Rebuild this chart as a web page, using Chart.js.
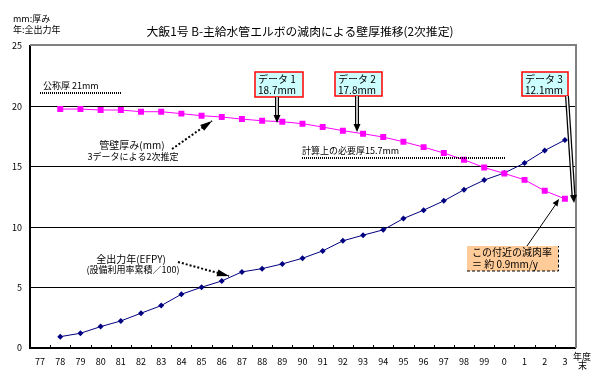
<!DOCTYPE html>
<html>
<head>
<meta charset="utf-8">
<script src="https://cdn.jsdelivr.net/npm/chart.js@4"></script>
<style>
html,body{margin:0;padding:0;background:#fff;}
canvas{display:block;}
</style>
</head>
<body>
<canvas id="chart" width="604" height="376"></canvas>
<script>
// 年度 (77 ... 3)
const years = ['77','78','79','80','81','82','83','84','85','86','87','88','89','90','91','92','93','94','95','96','97','98','99','0','1','2','3'];
// 管壁厚み(mm) 3データによる2次推定
const thickness = [null,19.78,19.78,19.70,19.70,19.56,19.56,19.40,19.23,19.12,18.95,18.81,18.73,18.57,18.29,17.99,17.74,17.46,17.07,16.63,16.14,15.58,14.94,14.45,13.92,13.01,12.35];
// 全出力年(EFPY)
const efpy = [null,0.94,1.22,1.77,2.24,2.88,3.51,4.45,5.03,5.55,6.30,6.57,6.96,7.43,8.04,8.87,9.34,9.78,10.72,11.41,12.18,13.10,13.90,14.49,15.31,16.35,17.22];
const yMin = 0, yMax = 25, yStep = 5;

const FONT = "'Noto Sans CJK JP', 'Noto Sans', sans-serif";

function head(ctx, x1, y1, x2, y2, len, wid){
    let a = Math.atan2(y2 - y1, x2 - x1);
    ctx.beginPath();
    ctx.moveTo(x2, y2);
    ctx.lineTo(x2 - len*Math.cos(a) + wid*Math.sin(a), y2 - len*Math.sin(a) - wid*Math.cos(a));
    ctx.lineTo(x2 - len*Math.cos(a) - wid*Math.sin(a), y2 - len*Math.sin(a) + wid*Math.cos(a));
    ctx.closePath();
    ctx.fillStyle = '#000';
    ctx.fill();
}

function hollowArrow(ctx, x1, y1, x2, y2){
    let a = Math.atan2(y2 - y1, x2 - x1);
    let ex = x2 - 6*Math.cos(a), ey = y2 - 6*Math.sin(a);
    ctx.setLineDash([]);
    ctx.strokeStyle = '#000'; ctx.lineWidth = 4;
    ctx.beginPath(); ctx.moveTo(x1, y1); ctx.lineTo(ex, ey); ctx.stroke();
    ctx.strokeStyle = '#fff'; ctx.lineWidth = 1.5;
    ctx.beginPath(); ctx.moveTo(x1, y1); ctx.lineTo(ex, ey); ctx.stroke();
    head(ctx, x1, y1, x2, y2, 8, 3.5);
}

function dottedArrow(ctx, x1, y1, x2, y2){
    ctx.strokeStyle = '#000'; ctx.lineWidth = 2;
    ctx.setLineDash([2, 2]);
    ctx.beginPath(); ctx.moveTo(x1, y1); ctx.lineTo(x2, y2); ctx.stroke();
    ctx.setLineDash([]);
    head(ctx, x1, y1, x2, y2, 12, 3.5);
}

function dottedLine(ctx, x1, x2, y){
    ctx.strokeStyle = '#000'; ctx.lineWidth = 2;
    ctx.setLineDash([1, 1]);
    ctx.beginPath(); ctx.moveTo(x1, y); ctx.lineTo(x2, y); ctx.stroke();
    ctx.setLineDash([]);
}

function callout(ctx, x, y, w, h, l1, l2){
    ctx.fillStyle = '#ccffff';
    ctx.fillRect(x, y, w, h);
    ctx.strokeStyle = '#ff0000'; ctx.lineWidth = 1.5;
    ctx.strokeRect(x, y, w, h);
    ctx.fillStyle = '#000';
    ctx.font = '10px ' + FONT;
    ctx.textAlign = 'left';
    ctx.fillText(l1, x + 3, y + 7);
    ctx.fillText(l2, x + 3, y + 18);
}

const decor = {
    id: 'decor',
    beforeDatasetsDraw(chart){
        let ctx = chart.ctx, a = chart.chartArea;
        ctx.save();
        // gray frame top/right
        ctx.strokeStyle = '#808080'; ctx.lineWidth = 2;
        ctx.beginPath();
        ctx.moveTo(a.left, a.top - 1); ctx.lineTo(a.right + 1, a.top - 1); ctx.lineTo(a.right + 1, a.bottom);
        ctx.stroke();
        // inner tick marks between categories
        let w = (a.right - a.left) / years.length;
        ctx.strokeStyle = '#000'; ctx.lineWidth = 1;
        for(let i = 1; i < years.length; i++){
            let x = Math.round(a.left + i*w) + 0.5;
            ctx.beginPath(); ctx.moveTo(x, a.bottom - 3); ctx.lineTo(x, a.bottom); ctx.stroke();
        }
        ctx.restore();
    },
    afterDraw(chart){
        let ctx = chart.ctx, a = chart.chartArea;
        ctx.save();
        ctx.textBaseline = 'middle';
        ctx.fillStyle = '#000';

        // title
        ctx.font = '11.8px ' + FONT;
        ctx.textAlign = 'center';
        ctx.fillText('大飯1号 B-主給水管エルボの減肉による壁厚推移(2次推定)', 300, 32);

        // unit labels
        ctx.font = '9px ' + FONT;
        ctx.textAlign = 'left';
        ctx.fillText('mm:厚み', 13, 19);
        ctx.fillText('年:全出力年', 13, 30);

        // 年度末
        ctx.fillText('年度', a.right - 2, 357);
        ctx.fillText('末', a.right + 3, 366);

        // 公称厚
        ctx.font = '9px ' + FONT;
        ctx.fillText('公称厚 21mm', 43, 86);
        dottedLine(ctx, 40, 122, 93);

        // 計算上の必要厚
        ctx.fillStyle = '#000';
        ctx.fillText('計算上の必要厚15.7mm', 302, 151);
        dottedLine(ctx, 302, 505, 158);

        // 管壁厚み
        ctx.font = '10px ' + FONT;
        ctx.fillStyle = '#000';
        ctx.textAlign = 'center';
        ctx.fillText('管壁厚み(mm)', 132, 145);
        ctx.font = '9px ' + FONT;
        ctx.fillText('3データによる2次推定', 133, 157);
        dottedArrow(ctx, 172, 149, 212, 121);

        // 全出力年
        ctx.font = '10px ' + FONT;
        ctx.fillStyle = '#000';
        ctx.fillText('全出力年(EFPY)', 131, 259);
        ctx.font = '9px ' + FONT;
        ctx.fillText('(設備利用率累積／100)', 133, 270);
        dottedArrow(ctx, 178, 262, 229, 276);

        // data callouts
        callout(ctx, 255, 72, 48, 25, 'データ 1', '18.7mm');
        hollowArrow(ctx, 277, 97, 277, 123);
        callout(ctx, 335, 72, 47, 24, 'データ 2', '17.8mm');
        hollowArrow(ctx, 357, 96, 357, 132);
        callout(ctx, 522, 72, 46, 24, 'データ 3', '12.1mm');
        hollowArrow(ctx, 567, 96, 574, 203);

        // 減肉率 box
        ctx.fillStyle = '#ffcc99';
        ctx.fillRect(467, 246, 91, 25);
        ctx.strokeStyle = '#000'; ctx.lineWidth = 1;
        ctx.setLineDash([3, 2]);
        ctx.beginPath(); ctx.moveTo(467, 271); ctx.lineTo(558.5, 271); ctx.lineTo(558.5, 246); ctx.stroke();
        ctx.setLineDash([]);
        ctx.fillStyle = '#000';
        ctx.font = '10px ' + FONT;
        ctx.textAlign = 'left';
        ctx.fillText('この付近の減肉率', 472, 252);
        ctx.fillText('＝ 約 0.9mm/y', 472, 264);
        ctx.strokeStyle = '#000'; ctx.lineWidth = 1;
        ctx.beginPath(); ctx.moveTo(527, 246); ctx.lineTo(556, 204); ctx.stroke();
        head(ctx, 527, 246, 559, 199, 7, 3);

        ctx.restore();
    }
};

new Chart(document.getElementById('chart'), {
    type: 'line',
    data: {
        labels: years,
        datasets: [
            {
                label: '管壁厚み',
                data: thickness,
                borderColor: '#ff00ff',
                backgroundColor: '#ff00ff',
                borderWidth: 1,
                pointStyle: 'rect',
                pointRadius: 4.2,
                pointBorderWidth: 0,
                tension: 0
            },
            {
                label: '全出力年',
                data: efpy,
                borderColor: '#000080',
                backgroundColor: '#000080',
                borderWidth: 1,
                pointStyle: 'rectRot',
                pointRadius: 3,
                pointBorderWidth: 0,
                tension: 0
            }
        ]
    },
    options: {
        responsive: false,
        animation: false,
        layout: { padding: { top: 46, right: 29, left: 0, bottom: 0 } },
        plugins: { legend: { display: false }, tooltip: { enabled: false } },
        scales: {
            x: {
                offset: true,
                grid: { display: true, drawOnChartArea: false, drawTicks: false, offset: true },
                border: { display: true, color: '#000', width: 2 },
                ticks: { color: '#000', font: { family: FONT, size: 9 }, padding: 8, maxRotation: 0, autoSkip: false },
                afterFit(s){ s.height = 28; }
            },
            y: {
                min: yMin, max: yMax,
                grid: {
                    drawTicks: false,
                    color: c => (c.tick.value === yMin || c.tick.value === yMax) ? 'rgba(0,0,0,0)' : '#000',
                    lineWidth: 1
                },
                border: { display: true, color: '#000', width: 2 },
                ticks: { stepSize: yStep, color: '#000', font: { family: FONT, size: 9 }, padding: 8 },
                afterFit(s){ s.width = 30; }
            }
        }
    },
    plugins: [decor]
});
</script>
</body>
</html>
